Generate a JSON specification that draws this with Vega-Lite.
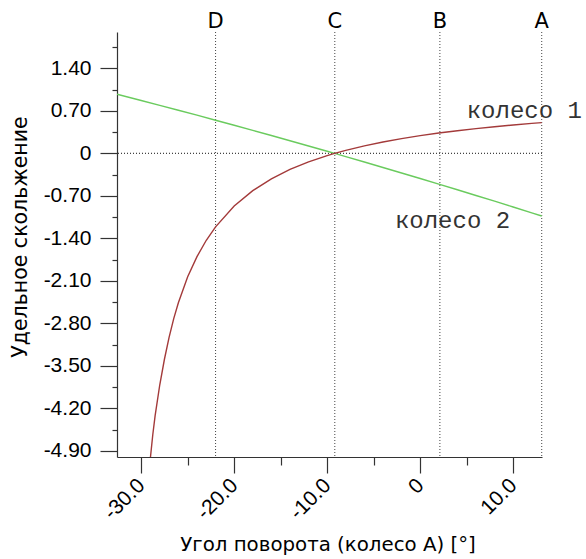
{
  "$schema": "https://vega.github.io/schema/vega-lite/v6.json",
  "width": 425,
  "height": 425,
  "autosize": {"type": "none"},
  "padding": {"left": 117, "top": 32, "right": 44, "bottom": 102},
  "background": "white",
  "config": {
    "view": {"stroke": null},
    "axis": {"labelFont": "Liberation Sans", "titleFont": "DejaVu Sans", "labelColor": "#000", "titleColor": "#000", "domainColor": "#333", "tickColor": "#333", "grid": false, "titleFontWeight": "normal", "domainWidth": 1.2, "tickWidth": 1.2}
  },
  "resolve": {"scale": {"x": "independent", "y": "independent"}},
  "datasets": {
    "curves": [
      {"x": -32.6, "y": 0.975, "s": "колесо 2"},
      {"x": -30, "y": 0.872, "s": "колесо 2"},
      {"x": -28, "y": 0.792, "s": "колесо 2"},
      {"x": -26, "y": 0.711, "s": "колесо 2"},
      {"x": -24, "y": 0.63, "s": "колесо 2"},
      {"x": -22, "y": 0.547, "s": "колесо 2"},
      {"x": -20, "y": 0.464, "s": "колесо 2"},
      {"x": -18, "y": 0.38, "s": "колесо 2"},
      {"x": -16, "y": 0.295, "s": "колесо 2"},
      {"x": -14, "y": 0.209, "s": "колесо 2"},
      {"x": -12, "y": 0.1225, "s": "колесо 2"},
      {"x": -10, "y": 0.0351, "s": "колесо 2"},
      {"x": -9.2, "y": 0, "s": "колесо 2"},
      {"x": -8, "y": -0.053, "s": "колесо 2"},
      {"x": -6, "y": -0.1419, "s": "колесо 2"},
      {"x": -4, "y": -0.2316, "s": "колесо 2"},
      {"x": -2, "y": -0.3221, "s": "колесо 2"},
      {"x": 0, "y": -0.4135, "s": "колесо 2"},
      {"x": 2, "y": -0.5056, "s": "колесо 2"},
      {"x": 4, "y": -0.5986, "s": "колесо 2"},
      {"x": 6, "y": -0.6923, "s": "колесо 2"},
      {"x": 8, "y": -0.7868, "s": "колесо 2"},
      {"x": 10, "y": -0.8822, "s": "колесо 2"},
      {"x": 12, "y": -0.9783, "s": "колесо 2"},
      {"x": 13.07, "y": -1.03, "s": "колесо 2"},
      {"x": -29.0, "y": -5.0, "s": "колесо 1"},
      {"x": -28.75, "y": -4.63, "s": "колесо 1"},
      {"x": -28.5, "y": -4.32, "s": "колесо 1"},
      {"x": -28, "y": -3.81, "s": "колесо 1"},
      {"x": -27.5, "y": -3.39, "s": "колесо 1"},
      {"x": -27, "y": -3.03, "s": "колесо 1"},
      {"x": -26.5, "y": -2.72, "s": "колесо 1"},
      {"x": -26, "y": -2.46, "s": "колесо 1"},
      {"x": -25, "y": -2.03, "s": "колесо 1"},
      {"x": -24, "y": -1.7, "s": "колесо 1"},
      {"x": -23, "y": -1.43, "s": "колесо 1"},
      {"x": -22, "y": -1.21, "s": "колесо 1"},
      {"x": -20, "y": -0.866, "s": "колесо 1"},
      {"x": -18, "y": -0.613, "s": "колесо 1"},
      {"x": -16, "y": -0.418, "s": "колесо 1"},
      {"x": -14, "y": -0.264, "s": "колесо 1"},
      {"x": -12, "y": -0.14, "s": "колесо 1"},
      {"x": -10, "y": -0.0364, "s": "колесо 1"},
      {"x": -9.2, "y": 0, "s": "колесо 1"},
      {"x": -8, "y": 0.0503, "s": "колесо 1"},
      {"x": -6, "y": 0.1243, "s": "колесо 1"},
      {"x": -4, "y": 0.188, "s": "колесо 1"},
      {"x": -2, "y": 0.2436, "s": "колесо 1"},
      {"x": 0, "y": 0.2925, "s": "колесо 1"},
      {"x": 2, "y": 0.3358, "s": "колесо 1"},
      {"x": 4, "y": 0.3745, "s": "колесо 1"},
      {"x": 6, "y": 0.4091, "s": "колесо 1"},
      {"x": 8, "y": 0.4403, "s": "колесо 1"},
      {"x": 10, "y": 0.4687, "s": "колесо 1"},
      {"x": 12, "y": 0.4945, "s": "колесо 1"},
      {"x": 13.07, "y": 0.507, "s": "колесо 1"}
    ],
    "markers": [
      {"x": -22.0, "label": "D"},
      {"x": -9.18, "label": "C"},
      {"x": 2.12, "label": "B"},
      {"x": 13.07, "label": "A"}
    ],
    "names": [
      {"x": 5.0, "y": 0.58, "name": "колесо 1"},
      {"x": -2.72, "y": -1.23, "name": "колесо 2"}
    ]
  },
  "layer": [
    {
      "data": {"name": "markers"},
      "mark": {"type": "rule", "color": "#444", "strokeDash": [1, 2], "strokeWidth": 1},
      "encoding": {
        "x": {"field": "x", "type": "quantitative", "scale": {"domain": [-32.6, 13.1], "nice": false, "zero": false}, "axis": null},
        "y": {"datum": 2.0, "type": "quantitative", "scale": {"domain": [-5.0, 2.0], "nice": false, "zero": false}, "axis": null},
        "y2": {"datum": -5.0}
      }
    },
    {
      "data": {"name": "markers"},
      "mark": {"type": "text", "font": "DejaVu Sans", "fontSize": 21, "baseline": "alphabetic", "dy": -4, "color": "#000"},
      "encoding": {
        "x": {"field": "x", "type": "quantitative", "scale": {"domain": [-32.6, 13.1], "nice": false, "zero": false},
          "axis": {
            "orient": "bottom",
            "values": [-25, -15, -5, 5],
            "labels": false,
            "domain": false,
            "tickSize": 8,
            "title": null
          }},
        "y": {"datum": 2.0, "type": "quantitative", "scale": {"domain": [-5.0, 2.0], "nice": false, "zero": false}, "axis": null},
        "text": {"field": "label"}
      }
    },
    {
      "data": {"name": "markers"},
      "mark": {"type": "rule", "color": "#444", "strokeDash": [1, 2], "strokeWidth": 1},
      "encoding": {
        "y": {"datum": 0, "type": "quantitative", "scale": {"domain": [-5.0, 2.0], "nice": false, "zero": false},
          "axis": {
            "orient": "left",
            "values": [-4.55, -3.85, -3.15, -2.45, -1.75, -1.05, -0.35, 0.35, 1.05, 1.75],
            "labels": false,
            "domain": false,
            "tickSize": 5,
            "title": null
          }}
      }
    },
    {
      "data": {"name": "curves"},
      "mark": {"type": "line", "strokeWidth": 1.4, "clip": true},
      "encoding": {
        "x": {"field": "x", "type": "quantitative", "scale": {"domain": [-32.6, 13.1], "nice": false, "zero": false},
          "title": "Угол поворота (колесо А) [°]",
          "axis": {
            "orient": "bottom",
            "values": [-30, -20, -10, 0, 10],
            "labelExpr": "abs(datum.value) < 0.01 ? '0' : (datum.value < 0 ? '-' : '') + format(abs(datum.value), '.1f')",
            "tickSize": 16,
            "labelAngle": -45,
            "labelAlign": "right",
            "labelBaseline": "middle",
            "labelFontSize": 21,
            "labelPadding": 9,
            "titleFontSize": 19.8,
            "titleX": 210.5,
            "titleY": 93,
            "titleAlign": "center",
            "titleBaseline": "alphabetic"
          }},
        "y": {"field": "y", "type": "quantitative", "scale": {"domain": [-5.0, 2.0], "nice": false, "zero": false},
          "title": "Удельное скольжение",
          "axis": {
            "orient": "left",
            "values": [-4.9, -4.2, -3.5, -2.8, -2.1, -1.4, -0.7, 0, 0.7, 1.4],
            "labelExpr": "abs(datum.value) < 0.01 ? '0' : (datum.value < 0 ? '-' : '') + format(abs(datum.value), '.2f')",
            "tickSize": 17,
            "labelFontSize": 21,
            "labelPadding": 9,
            "titleFontSize": 20.5,
            "titleX": -90.5,
            "titleY": 204.5,
            "titleAlign": "center",
            "titleBaseline": "alphabetic"
          }},
        "color": {"field": "s", "type": "nominal", "scale": {"domain": ["колесо 1", "колесо 2"], "range": ["#a33a3a", "#6acb5e"]}, "legend": null},
        "order": {"field": "x", "type": "quantitative"}
      }
    },
    {
      "data": {"name": "names"},
      "mark": {"type": "text", "font": "Liberation Mono", "fontSize": 24, "align": "left", "baseline": "alphabetic", "color": "#333"},
      "encoding": {
        "x": {"field": "x", "type": "quantitative", "scale": {"domain": [-32.6, 13.1], "nice": false, "zero": false}, "axis": null},
        "y": {"field": "y", "type": "quantitative", "scale": {"domain": [-5.0, 2.0], "nice": false, "zero": false}, "axis": null},
        "text": {"field": "name"}
      }
    }
  ]
}
